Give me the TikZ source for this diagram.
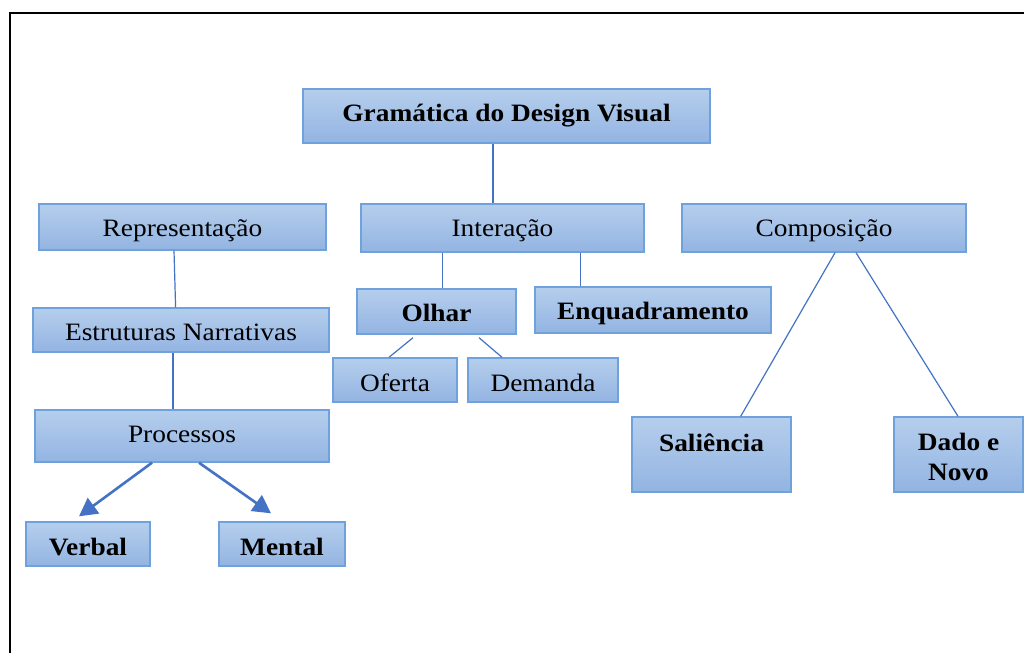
\documentclass[tikz,border=0pt]{standalone}
\usepackage{fontspec}
\setmainfont{Liberation Serif}[FakeStretch=1.095]
\usetikzlibrary{calc,arrows.meta}
\definecolor{boxtop}{HTML}{B5CEEC}
\definecolor{boxbot}{HTML}{93B4E2}
\definecolor{boxline}{HTML}{6FA2DC}
\definecolor{conn}{HTML}{4472C4}
\begin{document}
\begin{tikzpicture}[x=1pt,y=-1pt,
  box/.style={draw=boxline, line width=1.4pt, top color=boxtop, bottom color=boxbot,
    inner sep=0pt, align=center, text depth=0pt, text height=19pt,
    font=\fontsize{25}{30}\selectfont},
  bbox/.style={box, font=\fontsize{25}{30}\selectfont\bfseries},
  lbl/.style={inner sep=0pt, align=center, text depth=0pt, font=\fontsize{25}{30}\selectfont\bfseries},
  link/.style={draw=conn, line width=1.2pt},
  arr/.style={draw=conn, line width=2.6pt, -{Triangle[length=18pt,width=19pt]}, fill=conn}]
\useasboundingbox (0,0) rectangle (1024,653);
\fill[white] (0,0) rectangle (1024,653);
\draw[line width=2.2pt] (10,653) -- (10,13) -- (1025,13);

\node[bbox, minimum width=407pt, minimum height=54pt, text height=11.4pt] (gram) at (506.5,116) {Gramática do Design Visual};
\node[box, minimum width=287pt, minimum height=46pt, text height=19pt] (rep) at (182.5,227) {Representação};
\node[box, minimum width=283pt, minimum height=48pt, text height=17.4pt] (int) at (502.5,228) {Interação};
\node[box, minimum width=284pt, minimum height=48pt, text height=17.4pt] (comp) at (824,228) {Composição};
\node[box, minimum width=296pt, minimum height=44pt, text height=20pt] (est) at (181,330) {Estruturas Narrativas};
\node[bbox, minimum width=159pt, minimum height=45pt, text height=20pt] (olhar) at (436.5,311.5) {Olhar};
\node[bbox, minimum width=236pt, minimum height=46pt, text height=18.6pt] (enq) at (653,310) {Enquadramento};
\node[box, minimum width=124pt, minimum height=44pt, text height=23.4pt] (ofe) at (395,380) {Oferta};
\node[box, minimum width=150pt, minimum height=44pt, text height=23.4pt] (dem) at (543,380) {Demanda};
\node[box, minimum width=294pt, minimum height=52pt, text height=13.4pt] (proc) at (182,436) {Processos};
\node[bbox, minimum width=124pt, minimum height=44pt, text height=22pt] (verb) at (88,544) {Verbal};
\node[bbox, minimum width=126pt, minimum height=44pt, text height=22pt] (ment) at (282,544) {Mental};
\node[box, minimum width=159pt, minimum height=75pt] (sal) at (711.5,454.5) {};
\node[lbl, text height=17pt] (saltxt) at ($(sal.north)+(0,26.2)$) {Saliência};
\node[box, minimum width=129pt, minimum height=75pt] (dado) at (958.5,454.5) {};
\node[lbl, text height={}, text depth={}] (dadotxt) at ($(dado.center)+(0,2)$) {Dado e\\Novo};

\draw[link] ($(gram.south)+(-13.5,0)$) -- ($(int.north)+(-9.5,0)$);
\draw[link] ($(rep.south)+(-8.5,0)$) -- ($(est.north)+(-5.4,0)$);
\draw[link] ($(est.south)+(-8,0)$) -- ($(proc.north)+(-9,0)$);
\draw[link] ($(int.south)+(-59.8,0)$) -- ($(olhar.north)+(6.2,0)$);
\draw[link] ($(int.south)+(78.2,0)$) -- ($(enq.north)+(-72.3,0)$);
\draw[link] ($(olhar.south)+(-23.5,3)$) -- ($(ofe.north)+(-6,0)$);
\draw[link] ($(olhar.south)+(42.5,3)$) -- ($(dem.north)+(-41,0)$);
\draw[link] ($(comp.south)+(11,0)$) -- ($(sal.north)+(29.2,0)$);
\draw[link] ($(comp.south)+(32,0)$) -- ($(dado.north)+(-0.5,0)$);
\draw[arr] ($(proc.south)+(-30,0)$) -- ($(verb.north)+(-9,-5)$);
\draw[arr] ($(proc.south)+(17,0)$) -- ($(ment.north)+(-11,-8)$);
\end{tikzpicture}
\end{document}
